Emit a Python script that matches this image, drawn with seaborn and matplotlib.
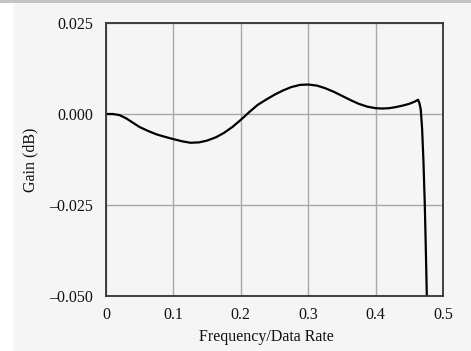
import matplotlib
matplotlib.use("Agg")
import matplotlib.pyplot as plt
from matplotlib.patches import Rectangle
import seaborn as sns
import pandas as pd

# Data
freq = [0.000, 0.010, 0.020, 0.030, 0.040, 0.050, 0.063, 0.075, 0.088, 0.100,
        0.113, 0.125, 0.138, 0.150, 0.163, 0.175, 0.188, 0.200, 0.213, 0.225,
        0.238, 0.250, 0.263, 0.275, 0.288, 0.300, 0.313, 0.325, 0.338, 0.350,
        0.363, 0.375, 0.388, 0.400, 0.410, 0.420, 0.430, 0.440, 0.450, 0.458,
        0.463, 0.465, 0.467, 0.469, 0.471, 0.473, 0.4745, 0.476, 0.4765]
gain = [0.0000, 0.0000, -0.0003, -0.0012, -0.0024, -0.0036, -0.0047, -0.0056, -0.0063, -0.0069,
        -0.0075, -0.0079, -0.0078, -0.0073, -0.0064, -0.0052, -0.0035, -0.0016, 0.0006, 0.0025,
        0.0040, 0.0053, 0.0065, 0.0074, 0.0080, 0.0081, 0.0078, 0.0071, 0.0061, 0.0050,
        0.0038, 0.0028, 0.0020, 0.0016, 0.0015, 0.0016, 0.0019, 0.0023, 0.0028, 0.0034,
        0.0039, 0.0030, 0.0012, -0.0040, -0.0130, -0.0250, -0.0370, -0.0500, -0.0560]
xticks = [0, 0.1, 0.2, 0.3, 0.4, 0.5]
xtick_labels = ["0", "0.1", "0.2", "0.3", "0.4", "0.5"]
yticks = [-0.050, -0.025, 0.000, 0.025]
ytick_labels = ["\u20130.050", "\u20130.025", "0.000", "0.025"]

df = pd.DataFrame({"freq": freq, "gain": gain})

sns.set_theme(style="white")
plt.rcParams["font.family"] = ["Liberation Serif", "DejaVu Serif"]

bg = "#f5f5f5"
fig = plt.figure(figsize=(4.71, 3.51), dpi=100, facecolor=bg)
W, H = 471, 351
fig.patches.append(Rectangle((0, 0), 13 / W, 1, transform=fig.transFigure,
                             facecolor="white", edgecolor="none", zorder=-10))
fig.patches.append(Rectangle((0, 1 - 3 / H), 1, 3 / H, transform=fig.transFigure,
                             facecolor="#c4c4c4", edgecolor="none", zorder=-10))

ax = fig.add_axes([106 / W, 1 - 296 / H, (443 - 106) / W, (296 - 23) / H])
ax.set_facecolor(bg)

sns.lineplot(data=df, x="freq", y="gain", ax=ax, color="black", linewidth=1.6,
             sort=False, estimator=None)

ax.set_xlim(0, 0.5)
ax.set_ylim(-0.05, 0.025)
ax.set_xticks(xticks)
ax.set_xticklabels(xtick_labels)
ax.set_yticks(yticks)
ax.set_yticklabels(ytick_labels)
ax.grid(True, color="#a8a8a8", linewidth=1.0)
ax.set_axisbelow(True)
for s in ax.spines.values():
    s.set_color("#333333")
    s.set_linewidth(1.3)
    s.set_visible(True)
ax.tick_params(axis="both", length=0, labelsize=11.5, colors="#111111")
ax.tick_params(axis="y", pad=9.5)
ax.tick_params(axis="x", pad=8)

ax.set_xlabel("Frequency/Data Rate", fontsize=11.5, color="#111111")
ax.set_ylabel("Gain (dB)", fontsize=11.5, color="#111111")
ax.xaxis.set_label_coords((266 - 106) / 337, (296 - 329) / 273)
ax.yaxis.set_label_coords((38 - 106) / 337, 0.5)

fig.savefig("out.png", dpi=100, facecolor=bg)
